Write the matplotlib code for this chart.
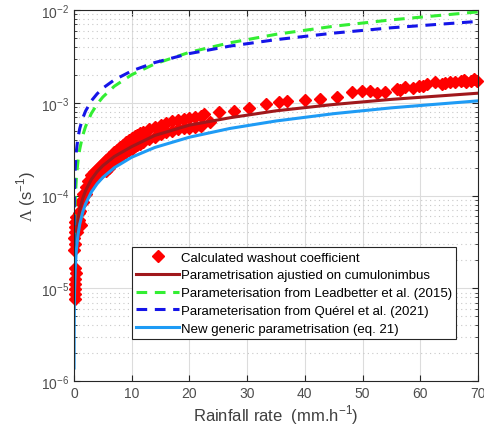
import matplotlib
matplotlib.use("Agg")
import matplotlib.pyplot as plt
from matplotlib.ticker import LogLocator, NullFormatter

plt.rcParams["font.family"] = ["Liberation Sans", "DejaVu Sans"]
plt.rcParams["mathtext.fontset"] = "custom"
plt.rcParams["mathtext.rm"] = "Liberation Serif"

# rainfall rate grid used for the parametrisation curves (mm/h)
rate = [0.01, 0.03, 0.05, 0.1, 0.2, 0.4, 0.7, 1, 1.5, 2, 3, 4, 5, 7, 10,
        14, 20, 27, 35, 45, 55, 70]

leadbetter = [None, 1.93e-5, 2.9e-5, 5.0e-5, 8.8e-5, 1.53e-4, 2.4e-4, 3.19e-4,
              4.41e-4, 5.55e-4, 7.68e-4, 9.67e-4, 1.156e-3, 1.513e-3, 2.01e-3,
              2.63e-3, 3.51e-3, 4.44e-3, 5.48e-3, 6.70e-3, 7.85e-3, 9.57e-3]
querel = [3.0e-5, 5.6e-5, 8.3e-5, 1.27e-4, 1.95e-4, 3.0e-4, 4.25e-4, 5.3e-4,
          6.8e-4, 8.15e-4, 1.05e-3, 1.25e-3, 1.44e-3, 1.77e-3, 2.21e-3,
          2.72e-3, 3.40e-3, 4.09e-3, 4.80e-3, 5.65e-3, 6.45e-3, 7.55e-3]
cumulonimbus = [None, None, None, 1.47e-5, 2.36e-5, 3.78e-5, 5.52e-5, 7.04e-5,
                9.27e-5, 1.13e-4, 1.49e-4, 1.81e-4, 2.10e-4, 2.64e-4, 3.37e-4,
                4.45e-4, 5.75e-4, 6.9e-4, 8.2e-4, 9.6e-4, 1.09e-3, 1.27e-3]
generic_x = [0.007, 0.02, 0.05, 0.1, 0.2, 0.4, 0.7, 1, 1.5, 2, 3, 4, 5, 7, 10,
             14, 20, 27, 35, 45, 55, 70]
generic = [1.38e-6, 2.95e-6, 5.7e-6, 9.4e-6, 1.55e-5, 2.55e-5, 3.81e-5, 4.93e-5,
           6.6e-5, 8.12e-5, 1.09e-4, 1.34e-4, 1.57e-4, 2.0e-4, 2.59e-4,
           3.30e-4, 4.26e-4, 5.29e-4, 6.37e-4, 7.64e-4, 8.83e-4, 1.05e-3]

# calculated washout coefficients
low_x = [0.15, 0.2, 0.1, 0.25, 0.15, 0.3, 0.2,
         0.05, 0.1, 0.05, 0.15, 0.1, 0.2, 0.3, 1.2]
low_y = [7.6e-6, 8.6e-6, 9.8e-6, 1.1e-5, 1.25e-5, 1.45e-5, 1.65e-5,
         2.6e-5, 3.0e-5, 3.5e-5, 4.0e-5, 4.6e-5, 5.2e-5, 5.8e-5, 4.8e-5]

band_x = [0.5, 0.8, 1.1, 1.5, 2.0, 2.5, 3.0, 3.5, 4.0, 4.5, 5.0, 5.5, 6.0,
          6.5, 7.0, 7.5, 8.0, 8.5, 9.0, 9.5, 10, 10.5, 11, 11.5, 12, 13, 14,
          15, 16, 17, 18, 19, 20, 21, 22]
band_upper = [5.0e-5, 6.5e-5, 8.5e-5, 1.05e-4, 1.25e-4, 1.45e-4, 1.65e-4,
              1.8e-4, 1.95e-4, 2.1e-4, 2.25e-4, 2.4e-4, 2.6e-4, 2.75e-4,
              2.95e-4, 3.1e-4, 3.3e-4, 3.55e-4, 3.75e-4, 3.95e-4, 4.15e-4,
              4.35e-4, 4.55e-4, 4.75e-4, 4.85e-4, 5.2e-4, 5.5e-4, 5.8e-4,
              6.1e-4, 6.3e-4, 6.5e-4, 6.7e-4, 6.9e-4, 7.0e-4, 7.2e-4]
band_lower = [4.0e-5, 5.5e-5, 6.8e-5, 8.5e-5, 1.05e-4, 1.2e-4, 1.35e-4,
              1.5e-4, 1.6e-4, 1.75e-4, 1.85e-4, 1.85e-4, 2.0e-4, 2.2e-4,
              2.4e-4, 2.5e-4, 2.65e-4, 2.8e-4, 2.95e-4, 3.1e-4, 3.2e-4,
              3.4e-4, 3.5e-4, 3.6e-4, 3.8e-4, 4.1e-4, 4.3e-4, 4.6e-4,
              4.8e-4, 5.0e-4, 5.2e-4, 5.3e-4, 5.4e-4, 5.5e-4, 5.6e-4]

high_x = [22.6, 23.6, 25.2, 27.8, 30.3, 33.2, 35.5, 36.9, 40.1, 42.6, 45.6,
          48.2, 49.9, 51.3, 52.5, 53.9, 55.9, 56.5, 57.4, 58.8, 59.7, 60.5,
          61.1, 62.5, 63.7, 64.3, 65.1, 66.0, 67.1, 67.6, 68.0, 68.8, 69.3,
          69.9]
high_y = [7.5e-4, 6.2e-4, 7.9e-4, 8.2e-4, 8.7e-4, 9.7e-4, 1.01e-3, 1.05e-3,
          1.08e-3, 1.11e-3, 1.15e-3, 1.30e-3, 1.35e-3, 1.35e-3, 1.28e-3,
          1.30e-3, 1.41e-3, 1.38e-3, 1.47e-3, 1.43e-3, 1.53e-3, 1.50e-3,
          1.59e-3, 1.66e-3, 1.59e-3, 1.62e-3, 1.66e-3, 1.66e-3, 1.73e-3,
          1.76e-3, 1.69e-3, 1.73e-3, 1.80e-3, 1.72e-3]

labels = [
    "Calculated washout coefficient",
    "Parametrisation ajustied on cumulonimbus",
    "Parameterisation from Leadbetter et al. (2015)",
    "Parameterisation from Qu\u00e9rel et al. (2021)",
    "New generic parametrisation (eq. 21)",
]


def _pairs(xs, ys):
    pts = [(x, y) for x, y in zip(xs, ys) if y is not None]
    return [p[0] for p in pts], [p[1] for p in pts]


obs_x = low_x + band_x + band_x + high_x
obs_y = low_y + band_upper + band_lower + high_y

fig = plt.figure(figsize=(4.85, 4.27), dpi=100)
ax = fig.add_axes([0.1526, 0.1054, 0.8330, 0.8686])

ax.plot(obs_x, obs_y, linestyle="none", marker="D", markersize=5.8,
        color="#FF0000", label=labels[0], clip_on=False)
x, y = _pairs(rate, cumulonimbus)
ax.plot(x, y, color="#A0181C", lw=2.2, label=labels[1])
x, y = _pairs(rate, leadbetter)
ax.plot(x, y, color="#33EE33", lw=2.2, ls=(0, (3.5, 2.5)), label=labels[2])
x, y = _pairs(rate, querel)
ax.plot(x, y, color="#1515E8", lw=2.2, ls=(0, (3.5, 2.5)), label=labels[3])
ax.plot(generic_x, generic, color="#1E9BF5", lw=2.2, label=labels[4])

ax.set_yscale("log")
ax.set_xlim(0, 70)
ax.set_ylim(1e-6, 1e-2)
ax.set_xticks(range(0, 71, 10))
ax.yaxis.set_major_locator(LogLocator(base=10, numticks=10))
ax.yaxis.set_minor_locator(LogLocator(base=10, subs=range(2, 10), numticks=20))
ax.yaxis.set_minor_formatter(NullFormatter())

ax.grid(True, which="major", color="#DCDCDC", lw=0.8)
ax.grid(True, which="minor", axis="y", color="#C8C8C8", lw=0.8, ls=(0, (1, 3)))
ax.set_axisbelow(True)

ax.tick_params(which="both", direction="in", top=True, right=True,
               colors="#262626", labelcolor="#4D4D4D", labelsize=10)
ax.tick_params(which="major", length=4)
ax.tick_params(which="minor", length=2)
for s in ax.spines.values():
    s.set_color("#262626")
    s.set_linewidth(0.8)

ax.set_xlabel("Rainfall rate  (mm.h$^{\\mathdefault{-1}}$)", fontsize=12,
              color="#404040", labelpad=2)
ax.set_ylabel("$\\Lambda$ (s$^{\\mathdefault{-1}}$)", fontsize=12,
              color="#404040", labelpad=2)

leg = ax.legend(loc="upper left", bbox_to_anchor=(0.143, 0.36),
                borderaxespad=0, fontsize=9.5, handlelength=3.3,
                labelspacing=0.42, handletextpad=0.1, borderpad=0.3,
                fancybox=False, framealpha=1, edgecolor="#262626")
leg.get_frame().set_linewidth(0.8)

fig.savefig("out.png", dpi=100)
